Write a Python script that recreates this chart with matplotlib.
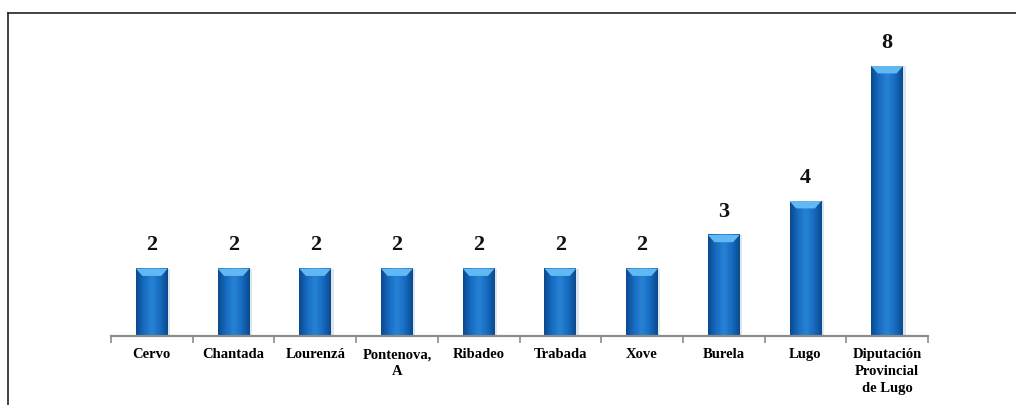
import numpy as np
import matplotlib
matplotlib.use('Agg')
import matplotlib.pyplot as plt
from matplotlib.colors import LinearSegmentedColormap
from matplotlib.patches import Polygon
from matplotlib.lines import Line2D

# ----------------------------------------------------------------
# Data
# ----------------------------------------------------------------
entidades = ['Cervo', 'Chantada', 'Lourenzá', 'Pontenova,\nA', 'Ribadeo',
             'Trabada', 'Xove', 'Burela', 'Lugo',
             'Diputación\nProvincial\nde Lugo']
valores = [2, 2, 2, 2, 2, 2, 2, 3, 4, 8]

BAR_W = 0.39
FONT = ['Liberation Serif', 'DejaVu Serif']

fig = plt.figure(figsize=(10.16, 4.06), dpi=100)
ax = fig.add_axes([111 / 1016, (406 - 337) / 406, 817 / 1016, 320.6 / 406])

# outer frame (top and left edges only)
fig.add_artist(Line2D([8 / 1016, 8 / 1016], [0, 1 - 14 / 406],
                      color='#222222', lw=1.2, transform=fig.transFigure))
fig.add_artist(Line2D([8 / 1016, 1], [1 - 14 / 406, 1 - 14 / 406],
                      color='#222222', lw=1.2, transform=fig.transFigure))

x = np.arange(len(valores))

# horizontal shading across each bar: dark edges, lighter middle
cmap = LinearSegmentedColormap.from_list(
    'bar', ['#0a4a8e', '#176cc2', '#2683d4', '#176cc2', '#0a4a8e'])
grad = np.linspace(0, 1, 64).reshape(1, -1)

for xi, v in zip(x, valores):
    x0, x1 = xi - BAR_W / 2, xi + BAR_W / 2
    # soft shadow
    ax.bar(xi + 0.03, v, BAR_W, bottom=0, color='#9fb6cc', alpha=0.35,
           zorder=1, linewidth=0)
    ax.imshow(grad, cmap=cmap, extent=[x0, x1, 0, v], aspect='auto',
              zorder=2, interpolation='bicubic')
    # light bevel at the top
    bev = 0.22
    ax.add_patch(Polygon([[x0, v], [x1, v], [x1 - 0.08, v - bev],
                          [x0 + 0.08, v - bev]], closed=True,
                         facecolor='#62b8f2', edgecolor='none', zorder=3))
    ax.text(xi, v + 0.42, f'{v}', ha='center', va='bottom',
            fontsize=16, fontweight='bold', family=FONT, color='#111111')

ax.set_xlim(-0.5, len(valores) - 0.5)
ax.set_ylim(0, 9.5)

for s in ['top', 'right', 'left']:
    ax.spines[s].set_visible(False)
ax.spines['bottom'].set_color('#8c8c8c')
ax.spines['bottom'].set_linewidth(1.6)
ax.set_yticks([])

# ticks at category boundaries, labels centred under bars
ax.set_xticks(np.arange(len(valores) + 1) - 0.5)
ax.set_xticklabels([])
ax.tick_params(axis='x', which='major', direction='out', length=5,
               width=1.2, color='#8c8c8c')
ax.set_xticks(x, minor=True)
ax.set_xticklabels(entidades, minor=True, fontsize=10.5, fontweight='bold',
                   family=FONT, linespacing=1.4)
ax.tick_params(axis='x', which='minor', length=0, pad=8)

fig.savefig('out.png', dpi=100)
